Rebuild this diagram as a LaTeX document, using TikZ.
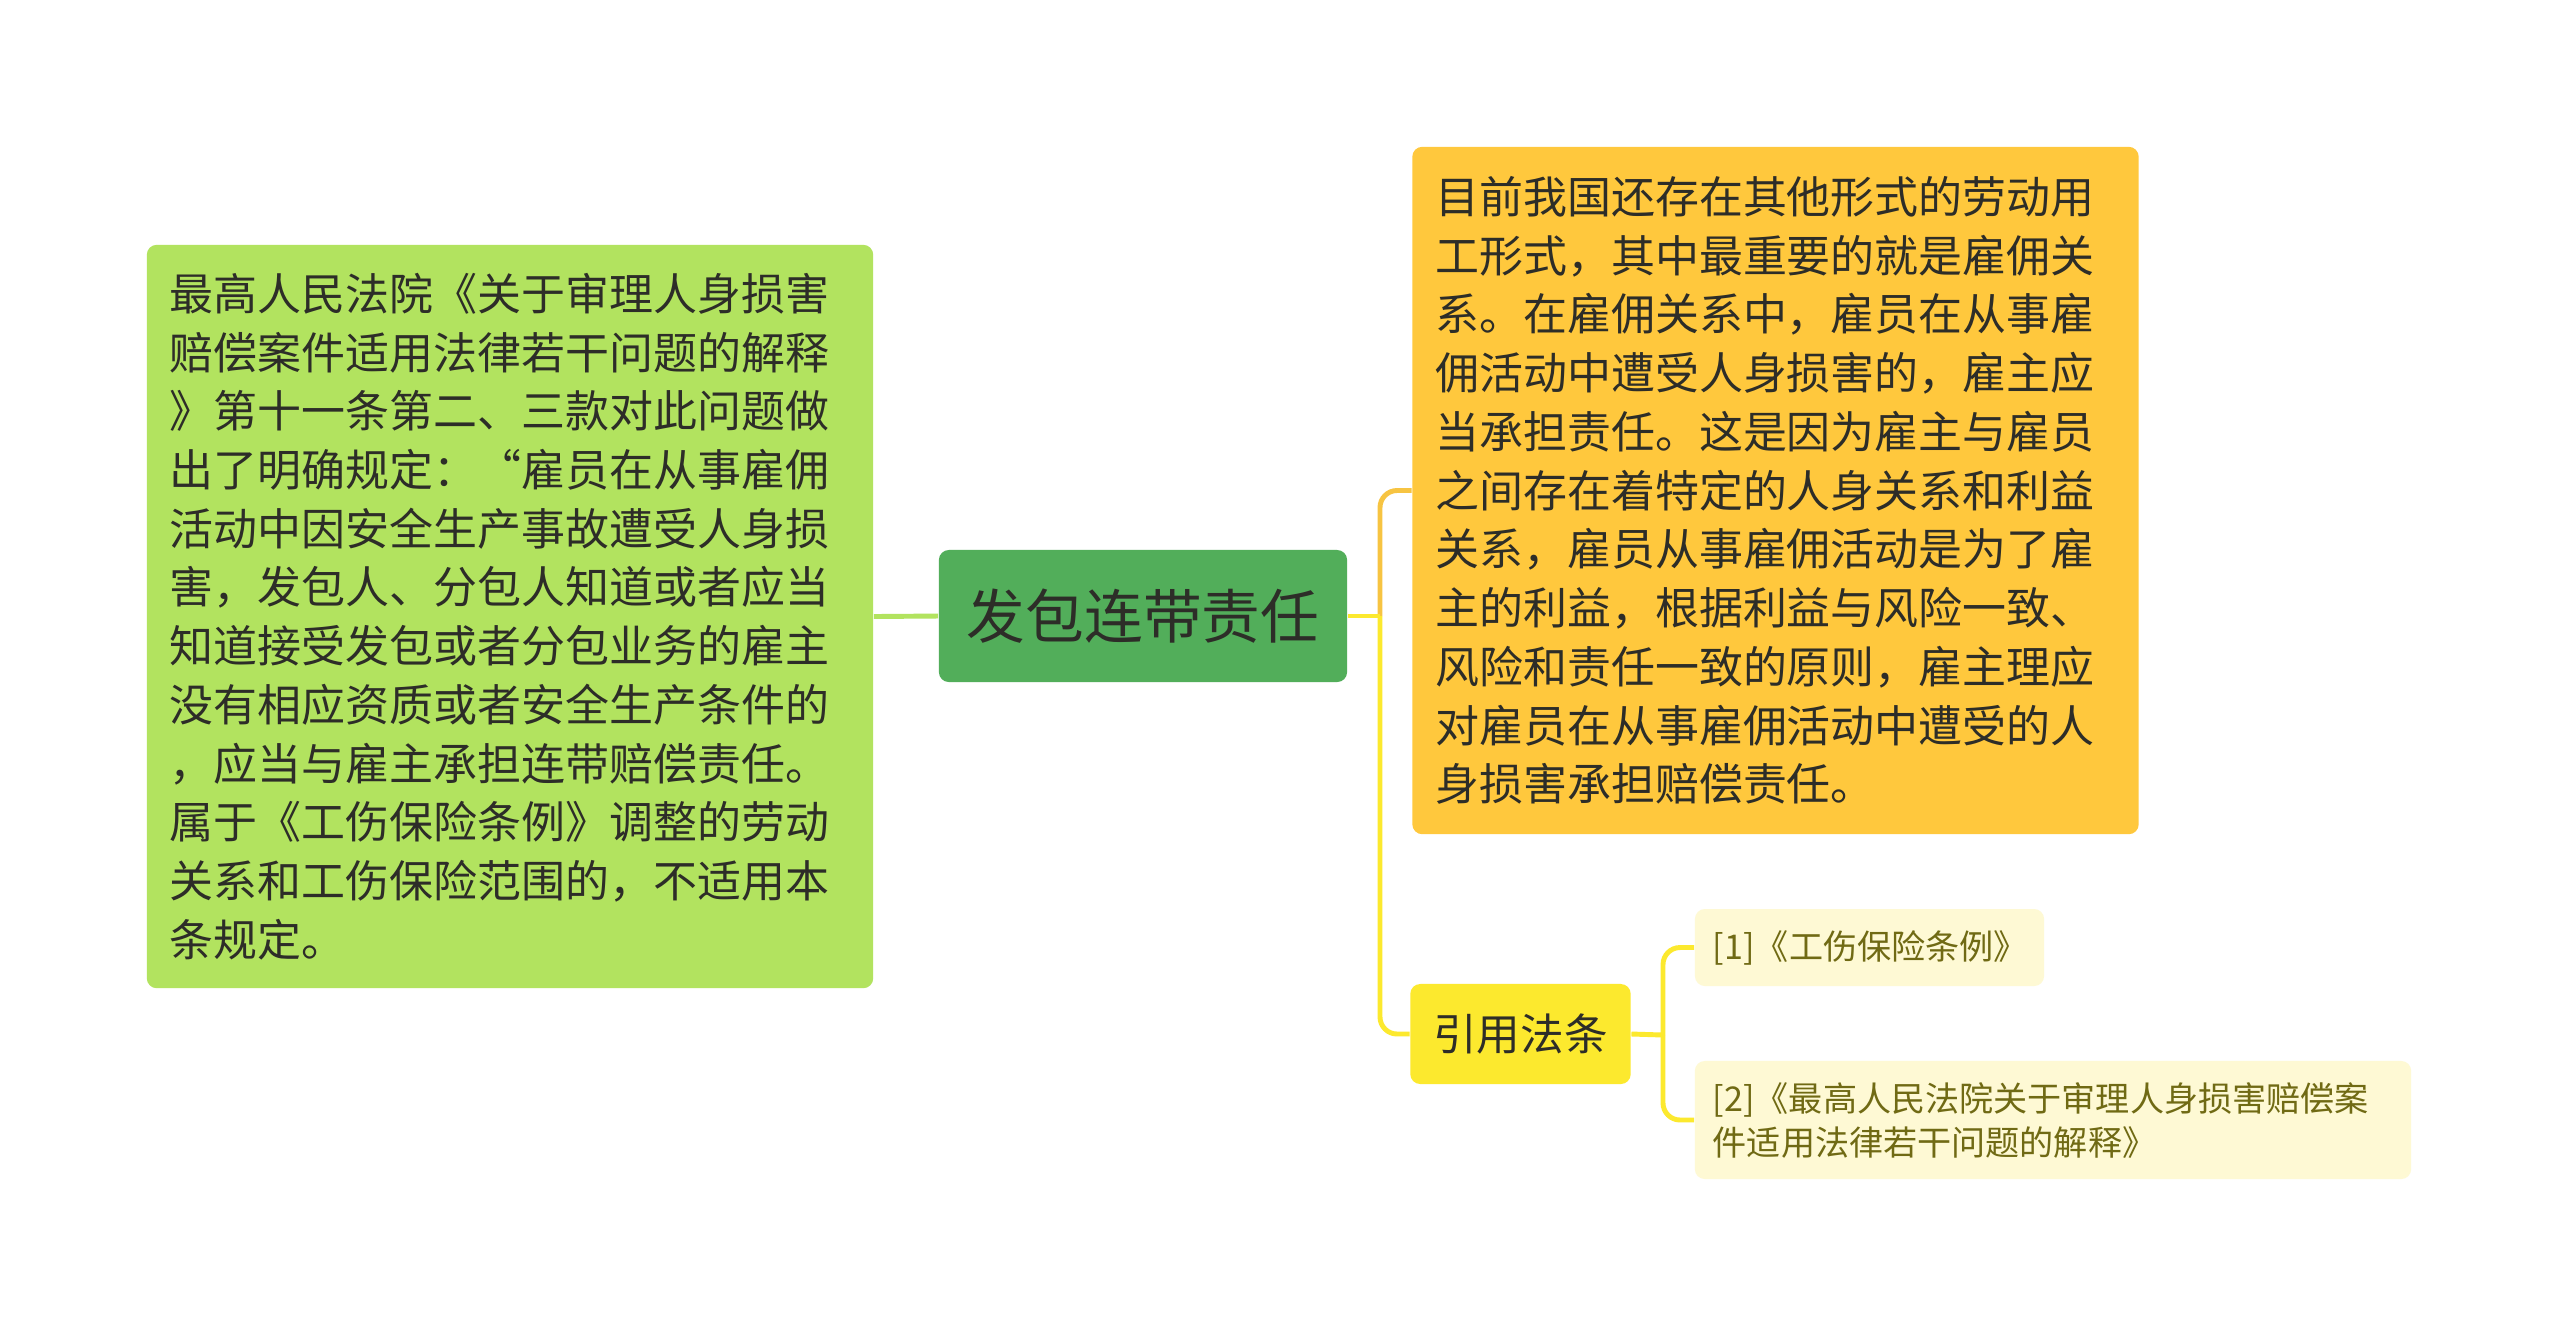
\documentclass[tikz,border=0pt]{standalone}
\usepackage{fontspec}
\setmainfont{Noto Sans CJK SC}

\definecolor{hubgreen}{RGB}{82,174,90}
\definecolor{limebox}{RGB}{178,227,95}
\definecolor{amberbox}{RGB}{255,200,61}
\definecolor{lemonbox}{RGB}{252,233,46}
\definecolor{creambox}{RGB}{254,249,212}
\definecolor{inkdark}{RGB}{45,45,40}
\definecolor{inkolive}{RGB}{112,106,20}
\definecolor{amberline}{RGB}{247,196,66}

\tikzset{
  card/.style={rounded corners=0.1cm, inner xsep=0.23cm, inner ysep=0pt, text=inkdark},
  bodytext/.style={card, align=left, text width=6.8cm, font=\fontsize{12.5}{16.7}\selectfont},
  reftext/.style={card, fill=creambox, text=inkolive, inner xsep=0.18cm, align=left,
    font=\fontsize{9.7}{12.5}\selectfont},
  wire/.style={line width=1.4pt},
  elbow/.style={wire, rounded corners=0.17cm}
}

\begin{document}
\begin{tikzpicture}[x=0.01cm, y=-0.01cm]
\useasboundingbox[fill=white] (0,0) rectangle (2560,1329);

% main topic
\node[card, fill=hubgreen, minimum width=4.08cm, minimum height=1.32cm,
  font=\fontsize{16.7}{20}\selectfont] (hub) at (1143,616) {发包连带责任};

% left branch
\node[bodytext, fill=limebox, minimum height=7.43cm] (lawbox) at (510,616.5) {%
最高人民法院《关于审理人身损害\\
赔偿案件适用法律若干问题的解释\\
》第十一条第二、三款对此问题做\\
出了明确规定：“雇员在从事雇佣\\
活动中因安全生产事故遭受人身损\\
害，发包人、分包人知道或者应当\\
知道接受发包或者分包业务的雇主\\
没有相应资质或者安全生产条件的\\
，应当与雇主承担连带赔偿责任。\\
属于《工伤保险条例》调整的劳动\\
关系和工伤保险范围的，不适用本\\
条规定。};

% right branches
\node[bodytext, fill=amberbox, minimum height=6.87cm] (factbox) at (1775.5,490.5) {%
目前我国还存在其他形式的劳动用\\
工形式，其中最重要的就是雇佣关\\
系。在雇佣关系中，雇员在从事雇\\
佣活动中遭受人身损害的，雇主应\\
当承担责任。这是因为雇主与雇员\\
之间存在着特定的人身关系和利益\\
关系，雇员从事雇佣活动是为了雇\\
主的利益，根据利益与风险一致、\\
风险和责任一致的原则，雇主理应\\
对雇员在从事雇佣活动中遭受的人\\
身损害承担赔偿责任。};

\node[card, fill=lemonbox, minimum width=2.17cm, minimum height=1.0cm,
  font=\fontsize{12.4}{15}\selectfont] (citebox) at (1520.5,1034) {引用法条};

\node[reftext, text width=3.13cm, minimum height=0.77cm] (ref1) at (1869.5,947.5)
  {[1]《工伤保险条例》};
\node[reftext, text width=6.8cm, minimum height=1.18cm] (ref2) at (2053,1120)
  {[2]《最高人民法院关于审理人身损害赔偿案\\件适用法律若干问题的解释》};

% connectors
\coordinate (rj) at (1380,616);
\coordinate (cj) at (1663,1035);
\draw[wire, limebox] (lawbox.east) -- (hub.west);
\draw[elbow, amberline] (rj) |- (factbox.west);
\draw[elbow, lemonbox] (rj) |- (citebox.west);
\draw[wire, lemonbox] (hub.east) -- (rj);
\draw[wire, lemonbox] (citebox.east) -- (cj);
\draw[elbow, lemonbox] (cj) |- (ref1.west);
\draw[elbow, lemonbox] (cj) |- (ref2.west);
\end{tikzpicture}
\end{document}
